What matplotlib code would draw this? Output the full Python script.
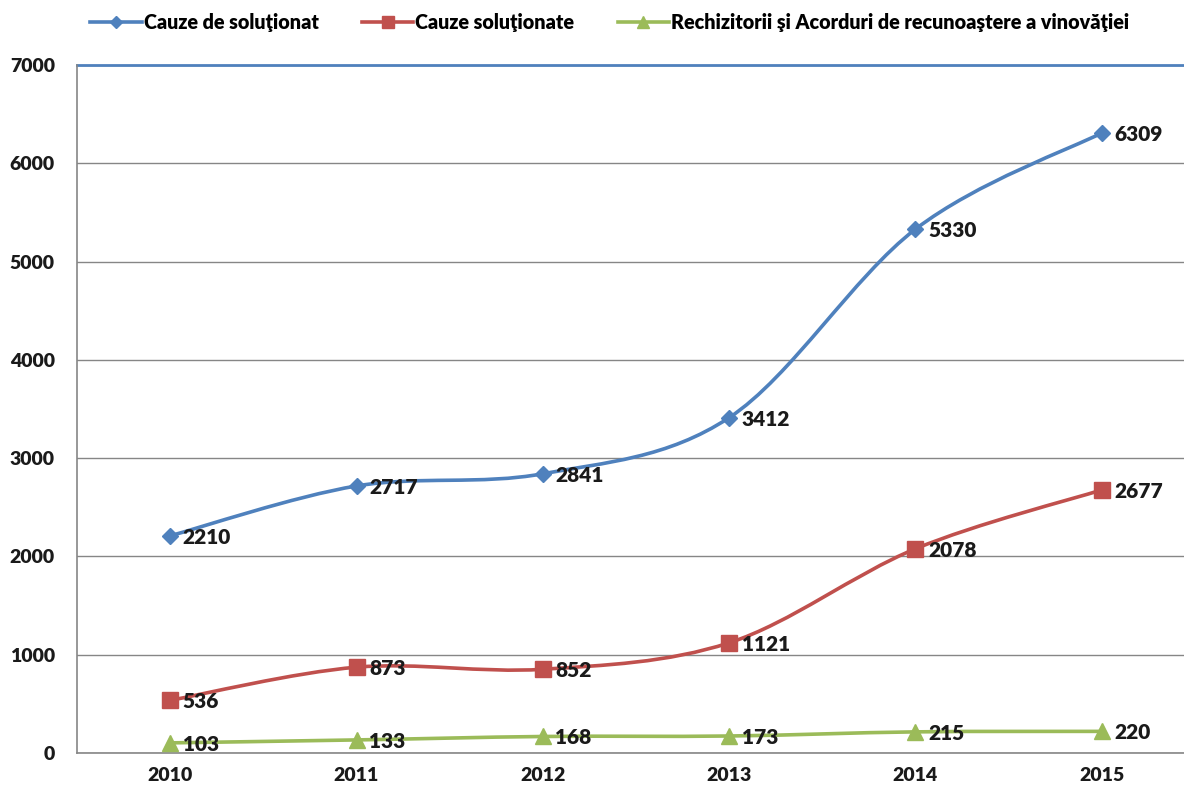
import matplotlib
matplotlib.use('Agg')
import matplotlib.pyplot as plt
from matplotlib.path import Path
from matplotlib.patches import PathPatch
from matplotlib.lines import Line2D
import numpy as np

years = ["2010", "2011", "2012", "2013", "2014", "2015"]
de_solutionat = [2210, 2717, 2841, 3412, 5330, 6309]
solutionate = [536, 873, 852, 1121, 2078, 2677]
rechizitorii = [103, 133, 168, 173, 215, 220]

names = ["Cauze de soluţionat", "Cauze soluţionate",
         "Rechizitorii şi Acorduri de recunoaştere a vinovăţiei"]
colors = ["#4F81BD", "#C0504D", "#9BBB59"]
markers = ["D", "s", "^"]
msizes = [8, 11, 11]

plt.rcParams['font.family'] = ['Lato', 'DejaVu Sans']
plt.rcParams['font.weight'] = 'heavy'


def smooth_path(xs, ys):
    # excel-style smoothed line as cubic bezier segments
    pts = np.column_stack([xs, ys]).astype(float)
    ext = np.vstack([pts[0], pts, pts[-1]])
    verts = [pts[0]]
    codes = [Path.MOVETO]
    for i in range(len(pts) - 1):
        p0, p1, p2, p3 = ext[i], ext[i + 1], ext[i + 2], ext[i + 3]
        c1 = p1 + (p2 - p0) / 6
        c2 = p2 - (p3 - p1) / 6
        verts += [c1, c2, p2]
        codes += [Path.CURVE4] * 3
    return Path(verts, codes)


fig = plt.figure(figsize=(11.84, 7.91), dpi=100)
ax = fig.add_axes([77 / 1184, 38 / 791, 1118 / 1184, 688 / 791])

x = np.arange(len(years))
series = [de_solutionat, solutionate, rechizitorii]
for vals, c, m, ms in zip(series, colors, markers, msizes):
    ax.add_patch(PathPatch(smooth_path(x, vals), fill=False, edgecolor=c,
                           lw=2.6, zorder=3))
    ax.plot(x, vals, ls='none', marker=m, color=c, ms=ms, zorder=4)
    for xi, v in zip(x, vals):
        ax.annotate(str(v), (xi, v), xytext=(9, -1), textcoords='offset points',
                    ha='left', va='center', fontsize=15, fontweight='heavy',
                    color='#1a1a1a', zorder=5)

ax.set_xlim(-0.5, 5.5)
ax.set_ylim(0, 7000)
ax.set_yticks(range(0, 7001, 1000))
ax.set_xticks(x)
ax.set_xticklabels(years)
ax.tick_params(length=0, labelsize=14, colors='#1a1a1a', pad=10)
ax.tick_params(axis='y', pad=16)
ax.grid(axis='y', color='#868686', lw=1)
ax.set_axisbelow(True)
for s in ['top', 'right']:
    ax.spines[s].set_visible(False)
for s in ['left', 'bottom']:
    ax.spines[s].set_color('#868686')
    ax.spines[s].set_linewidth(1.2)
ax.axhline(7000, color='#4F81BD', lw=2, zorder=2, clip_on=False)

handles = [Line2D([], [], color=c, marker=m, ms=ms * 0.8, lw=2.6)
           for c, m, ms in zip(colors, markers, msizes)]
fig.legend(handles, names, loc='center', bbox_to_anchor=(0.515, 1 - 22 / 791),
           ncol=3, frameon=False, fontsize=14.2, handlelength=2.6,
           handletextpad=0.1, columnspacing=2.2)

plt.savefig("out.png", dpi=100)
plt.close()
